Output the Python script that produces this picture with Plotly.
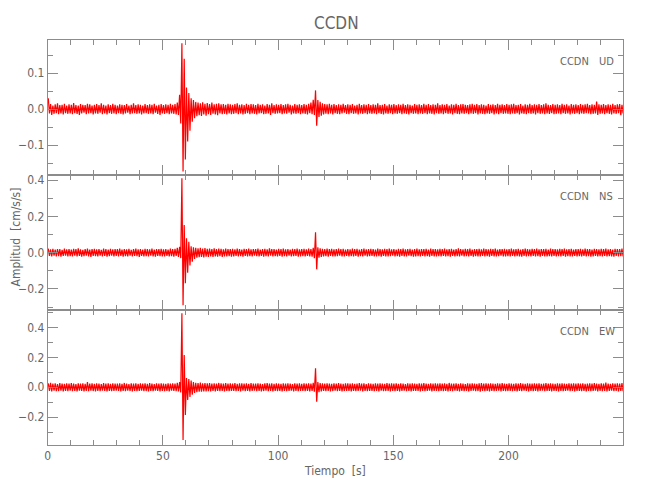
import plotly.graph_objects as go

STATION = "CCDN"
COMPONENTS = ["UD", "NS", "EW"]
X_TITLE = "Tiempo\u00a0\u00a0[s]"
Y_TITLE = "Amplitud\u00a0\u00a0[cm/s/s]"
X_TICKS = [0, 50, 100, 150, 200]

# Per-second envelope (max / min) of each component
UD_MAX = [
    0.030, 0.014, 0.010, 0.013, 0.016, 0.011, 0.012, 0.015, 0.010, 0.013,
    0.012, 0.017, 0.011, 0.010, 0.014, 0.012, 0.011, 0.015, 0.013, 0.010,
    0.012, 0.014, 0.011, 0.016, 0.012, 0.010, 0.013, 0.011, 0.015, 0.012,
    0.010, 0.013, 0.012, 0.011, 0.014, 0.010, 0.012, 0.016, 0.011, 0.013,
    0.012, 0.010, 0.014, 0.011, 0.013, 0.012, 0.015, 0.010, 0.012, 0.014,
    0.011, 0.013, 0.012, 0.015, 0.012, 0.014, 0.018, 0.040, 0.183, 0.140,
    0.060, 0.045, 0.030, 0.025, 0.020, 0.018, 0.016, 0.019, 0.015, 0.017,
    0.014, 0.018, 0.013, 0.015, 0.016, 0.013, 0.014, 0.012, 0.015, 0.013,
    0.012, 0.014, 0.016, 0.012, 0.013, 0.011, 0.015, 0.012, 0.014, 0.013,
    0.011, 0.015, 0.012, 0.013, 0.010, 0.014, 0.012, 0.016, 0.011, 0.013,
    0.012, 0.014, 0.011, 0.013, 0.015, 0.012, 0.010, 0.014, 0.012, 0.013,
    0.011, 0.014, 0.012, 0.015, 0.018, 0.026, 0.052, 0.025, 0.020, 0.016,
    0.014, 0.013, 0.015, 0.012, 0.014, 0.011, 0.013, 0.012, 0.015, 0.011,
    0.013, 0.012, 0.014, 0.010, 0.012, 0.015, 0.011, 0.013, 0.012, 0.014,
    0.011, 0.013, 0.012, 0.016, 0.011, 0.012, 0.014, 0.010, 0.013, 0.012,
    0.014, 0.011, 0.013, 0.012, 0.015, 0.011, 0.013, 0.012, 0.010, 0.014,
    0.012, 0.013, 0.011, 0.015, 0.012, 0.014, 0.011, 0.013, 0.012, 0.016,
    0.011, 0.013, 0.012, 0.014, 0.010, 0.013, 0.012, 0.015, 0.011, 0.013,
    0.014, 0.012, 0.011, 0.013, 0.015, 0.012, 0.014, 0.011, 0.013, 0.012,
    0.010, 0.014, 0.012, 0.013, 0.011, 0.015, 0.012, 0.013, 0.011, 0.014,
    0.012, 0.013, 0.015, 0.011, 0.012, 0.014, 0.010, 0.013, 0.012, 0.015,
    0.011, 0.013, 0.012, 0.014, 0.011, 0.013, 0.016, 0.012, 0.011, 0.014,
    0.012, 0.013, 0.011, 0.015, 0.012, 0.013, 0.010, 0.014, 0.012, 0.013,
    0.011, 0.014, 0.012, 0.013, 0.015, 0.011, 0.013, 0.012, 0.021, 0.013,
    0.012, 0.014, 0.011, 0.013, 0.012, 0.015, 0.011, 0.013, 0.014, 0.012,
]
UD_MIN = [
    -0.012, -0.016, -0.013, -0.011, -0.014, -0.012, -0.015, -0.011, -0.013, -0.012,
    -0.014, -0.011, -0.013, -0.016, -0.012, -0.010, -0.014, -0.012, -0.011, -0.015,
    -0.012, -0.013, -0.010, -0.014, -0.012, -0.015, -0.011, -0.013, -0.012, -0.014,
    -0.011, -0.013, -0.015, -0.012, -0.010, -0.014, -0.012, -0.011, -0.013, -0.012,
    -0.015, -0.012, -0.011, -0.013, -0.012, -0.014, -0.010, -0.013, -0.016, -0.012,
    -0.013, -0.011, -0.014, -0.012, -0.013, -0.015, -0.016, -0.040, -0.173, -0.140,
    -0.090, -0.060, -0.035, -0.025, -0.020, -0.017, -0.019, -0.015, -0.018, -0.014,
    -0.016, -0.013, -0.015, -0.017, -0.012, -0.014, -0.013, -0.015, -0.012, -0.014,
    -0.013, -0.011, -0.014, -0.012, -0.015, -0.013, -0.011, -0.014, -0.012, -0.013,
    -0.015, -0.012, -0.011, -0.014, -0.013, -0.012, -0.016, -0.011, -0.013, -0.012,
    -0.011, -0.014, -0.012, -0.013, -0.010, -0.015, -0.012, -0.013, -0.011, -0.014,
    -0.012, -0.013, -0.015, -0.011, -0.014, -0.016, -0.046, -0.022, -0.018, -0.015,
    -0.013, -0.014, -0.012, -0.015, -0.011, -0.013, -0.014, -0.012, -0.010, -0.013,
    -0.014, -0.011, -0.013, -0.012, -0.015, -0.012, -0.013, -0.011, -0.014, -0.012,
    -0.013, -0.012, -0.014, -0.011, -0.013, -0.015, -0.012, -0.013, -0.011, -0.014,
    -0.012, -0.013, -0.011, -0.014, -0.012, -0.013, -0.015, -0.011, -0.013, -0.012,
    -0.014, -0.012, -0.013, -0.011, -0.014, -0.012, -0.013, -0.015, -0.011, -0.013,
    -0.012, -0.014, -0.011, -0.013, -0.012, -0.015, -0.011, -0.013, -0.014, -0.012,
    -0.013, -0.011, -0.014, -0.012, -0.013, -0.011, -0.015, -0.012, -0.013, -0.014,
    -0.012, -0.013, -0.011, -0.015, -0.012, -0.014, -0.011, -0.013, -0.012, -0.013,
    -0.014, -0.012, -0.013, -0.011, -0.015, -0.012, -0.013, -0.014, -0.011, -0.013,
    -0.012, -0.015, -0.011, -0.013, -0.012, -0.014, -0.012, -0.013, -0.011, -0.014,
    -0.013, -0.012, -0.014, -0.011, -0.013, -0.012, -0.015, -0.012, -0.013, -0.011,
    -0.014, -0.012, -0.013, -0.011, -0.012, -0.014, -0.013, -0.012, -0.016, -0.013,
    -0.012, -0.014, -0.011, -0.013, -0.015, -0.012, -0.013, -0.011, -0.017, -0.012,
]
NS_MAX = [
    0.022, 0.018, 0.021, 0.017, 0.020, 0.019, 0.016, 0.023, 0.018, 0.020,
    0.017, 0.021, 0.019, 0.024, 0.018, 0.016, 0.020, 0.022, 0.017, 0.019,
    0.021, 0.018, 0.020, 0.016, 0.022, 0.019, 0.017, 0.021, 0.018, 0.020,
    0.019, 0.023, 0.017, 0.020, 0.018, 0.021, 0.016, 0.019, 0.022, 0.018,
    0.020, 0.017, 0.021, 0.019, 0.018, 0.022, 0.017, 0.020, 0.019, 0.021,
    0.018, 0.020, 0.017, 0.022, 0.019, 0.021, 0.026, 0.032, 0.410, 0.153,
    0.080, 0.060, 0.035, 0.030, 0.027, 0.024, 0.026, 0.022, 0.025, 0.021,
    0.023, 0.020, 0.024, 0.019, 0.022, 0.021, 0.018, 0.023, 0.020, 0.019,
    0.021, 0.018, 0.022, 0.020, 0.017, 0.021, 0.019, 0.023, 0.018, 0.020,
    0.019, 0.022, 0.017, 0.020, 0.021, 0.018, 0.024, 0.019, 0.020, 0.017,
    0.021, 0.019, 0.022, 0.018, 0.020, 0.017, 0.021, 0.019, 0.023, 0.018,
    0.019, 0.021, 0.018, 0.022, 0.020, 0.026, 0.112, 0.030, 0.024, 0.021,
    0.020, 0.022, 0.019, 0.021, 0.018, 0.020, 0.023, 0.019, 0.021, 0.017,
    0.020, 0.018, 0.022, 0.019, 0.021, 0.017, 0.020, 0.022, 0.018, 0.019,
    0.021, 0.019, 0.017, 0.022, 0.020, 0.018, 0.021, 0.019, 0.023, 0.018,
    0.020, 0.017, 0.021, 0.019, 0.022, 0.018, 0.020, 0.021, 0.017, 0.019,
    0.022, 0.018, 0.020, 0.019, 0.021, 0.017, 0.023, 0.019, 0.020, 0.018,
    0.021, 0.019, 0.022, 0.018, 0.020, 0.021, 0.017, 0.019, 0.024, 0.020,
    0.018, 0.021, 0.019, 0.022, 0.017, 0.020, 0.019, 0.021, 0.018, 0.022,
    0.020, 0.018, 0.021, 0.019, 0.023, 0.017, 0.020, 0.019, 0.021, 0.018,
    0.019, 0.022, 0.018, 0.020, 0.021, 0.017, 0.019, 0.022, 0.020, 0.018,
    0.021, 0.019, 0.023, 0.018, 0.020, 0.019, 0.021, 0.017, 0.022, 0.019,
    0.020, 0.018, 0.021, 0.019, 0.022, 0.018, 0.020, 0.021, 0.017, 0.020,
    0.019, 0.021, 0.018, 0.022, 0.020, 0.019, 0.017, 0.021, 0.020, 0.018,
    0.021, 0.019, 0.022, 0.018, 0.020, 0.017, 0.021, 0.019, 0.020, 0.022,
]
NS_MIN = [
    -0.018, -0.021, -0.017, -0.020, -0.019, -0.022, -0.018, -0.016, -0.020, -0.019,
    -0.021, -0.017, -0.020, -0.018, -0.022, -0.019, -0.017, -0.020, -0.023, -0.018,
    -0.019, -0.021, -0.017, -0.020, -0.018, -0.022, -0.019, -0.017, -0.021, -0.018,
    -0.020, -0.018, -0.022, -0.019, -0.021, -0.017, -0.020, -0.018, -0.019, -0.023,
    -0.018, -0.020, -0.019, -0.021, -0.017, -0.020, -0.022, -0.018, -0.019, -0.020,
    -0.021, -0.018, -0.020, -0.019, -0.022, -0.018, -0.024, -0.030, -0.290, -0.169,
    -0.110, -0.070, -0.050, -0.035, -0.028, -0.025, -0.023, -0.026, -0.022, -0.024,
    -0.021, -0.023, -0.020, -0.022, -0.019, -0.023, -0.020, -0.021, -0.019, -0.022,
    -0.020, -0.018, -0.021, -0.019, -0.022, -0.018, -0.020, -0.019, -0.021, -0.017,
    -0.019, -0.021, -0.018, -0.022, -0.019, -0.020, -0.017, -0.021, -0.019, -0.020,
    -0.018, -0.022, -0.019, -0.020, -0.017, -0.021, -0.019, -0.018, -0.022, -0.020,
    -0.019, -0.021, -0.018, -0.020, -0.022, -0.030, -0.092, -0.028, -0.023, -0.021,
    -0.019, -0.022, -0.018, -0.020, -0.021, -0.019, -0.017, -0.021, -0.020, -0.018,
    -0.021, -0.019, -0.020, -0.018, -0.022, -0.019, -0.021, -0.017, -0.020, -0.019,
    -0.018, -0.021, -0.020, -0.019, -0.022, -0.018, -0.020, -0.021, -0.019, -0.017,
    -0.020, -0.019, -0.022, -0.018, -0.020, -0.021, -0.017, -0.019, -0.022, -0.020,
    -0.019, -0.021, -0.018, -0.020, -0.019, -0.022, -0.018, -0.020, -0.021, -0.019,
    -0.020, -0.018, -0.021, -0.019, -0.022, -0.018, -0.020, -0.019, -0.021, -0.017,
    -0.021, -0.019, -0.020, -0.018, -0.022, -0.019, -0.021, -0.020, -0.018, -0.020,
    -0.019, -0.022, -0.018, -0.020, -0.021, -0.019, -0.017, -0.021, -0.020, -0.019,
    -0.020, -0.018, -0.021, -0.019, -0.020, -0.022, -0.018, -0.020, -0.019, -0.021,
    -0.018, -0.020, -0.019, -0.022, -0.018, -0.020, -0.021, -0.019, -0.020, -0.018,
    -0.021, -0.019, -0.020, -0.018, -0.022, -0.019, -0.020, -0.021, -0.018, -0.020,
    -0.019, -0.021, -0.018, -0.020, -0.019, -0.022, -0.020, -0.018, -0.021, -0.019,
    -0.020, -0.018, -0.021, -0.019, -0.020, -0.022, -0.018, -0.020, -0.019, -0.021,
]
EW_MAX = [
    0.026, 0.030, 0.024, 0.027, 0.022, 0.028, 0.025, 0.023, 0.027, 0.024,
    0.028, 0.025, 0.022, 0.026, 0.024, 0.027, 0.023, 0.035, 0.025, 0.026,
    0.023, 0.027, 0.025, 0.022, 0.028, 0.024, 0.026, 0.023, 0.027, 0.025,
    0.024, 0.026, 0.023, 0.029, 0.025, 0.022, 0.027, 0.024, 0.026, 0.023,
    0.027, 0.024, 0.026, 0.023, 0.028, 0.025, 0.022, 0.026, 0.024, 0.027,
    0.025, 0.023, 0.026, 0.024, 0.027, 0.025, 0.030, 0.035, 0.495, 0.216,
    0.062, 0.055, 0.045, 0.035, 0.030, 0.028, 0.031, 0.027, 0.029, 0.026,
    0.028, 0.025, 0.027, 0.024, 0.029, 0.026, 0.025, 0.028, 0.024, 0.027,
    0.025, 0.028, 0.023, 0.026, 0.027, 0.024, 0.026, 0.023, 0.028, 0.025,
    0.024, 0.027, 0.025, 0.022, 0.026, 0.028, 0.024, 0.026, 0.023, 0.027,
    0.025, 0.023, 0.027, 0.024, 0.026, 0.025, 0.022, 0.027, 0.024, 0.026,
    0.023, 0.026, 0.024, 0.027, 0.025, 0.030, 0.127, 0.035, 0.028, 0.026,
    0.024, 0.027, 0.025, 0.023, 0.026, 0.024, 0.028, 0.025, 0.023, 0.026,
    0.027, 0.024, 0.026, 0.023, 0.025, 0.028, 0.024, 0.026, 0.022, 0.027,
    0.025, 0.023, 0.027, 0.024, 0.026, 0.025, 0.023, 0.028, 0.024, 0.026,
    0.024, 0.027, 0.023, 0.026, 0.025, 0.022, 0.027, 0.024, 0.026, 0.025,
    0.023, 0.026, 0.024, 0.028, 0.025, 0.023, 0.026, 0.024, 0.027, 0.025,
    0.026, 0.024, 0.027, 0.023, 0.029, 0.025, 0.024, 0.026, 0.023, 0.027,
    0.025, 0.022, 0.026, 0.024, 0.027, 0.025, 0.023, 0.026, 0.028, 0.024,
    0.026, 0.024, 0.027, 0.025, 0.023, 0.026, 0.024, 0.028, 0.025, 0.023,
    0.027, 0.025, 0.023, 0.026, 0.024, 0.028, 0.025, 0.023, 0.026, 0.024,
    0.025, 0.027, 0.024, 0.026, 0.023, 0.025, 0.028, 0.024, 0.026, 0.025,
    0.023, 0.026, 0.024, 0.027, 0.025, 0.023, 0.026, 0.024, 0.027, 0.025,
    0.026, 0.024, 0.027, 0.023, 0.025, 0.026, 0.024, 0.028, 0.025, 0.023,
    0.026, 0.024, 0.032, 0.025, 0.023, 0.026, 0.024, 0.027, 0.025, 0.028,
]
EW_MIN = [
    -0.024, -0.027, -0.023, -0.026, -0.025, -0.022, -0.027, -0.024, -0.026, -0.023,
    -0.026, -0.024, -0.028, -0.023, -0.025, -0.027, -0.024, -0.026, -0.022, -0.025,
    -0.027, -0.024, -0.026, -0.023, -0.025, -0.028, -0.024, -0.026, -0.025, -0.023,
    -0.025, -0.027, -0.024, -0.026, -0.023, -0.025, -0.028, -0.024, -0.026, -0.025,
    -0.023, -0.026, -0.025, -0.027, -0.024, -0.026, -0.023, -0.025, -0.027, -0.024,
    -0.026, -0.024, -0.027, -0.023, -0.025, -0.026, -0.028, -0.035, -0.352, -0.185,
    -0.085, -0.065, -0.050, -0.038, -0.032, -0.029, -0.030, -0.027, -0.028, -0.026,
    -0.027, -0.025, -0.028, -0.024, -0.026, -0.025, -0.027, -0.024, -0.026, -0.025,
    -0.024, -0.026, -0.025, -0.027, -0.023, -0.026, -0.024, -0.027, -0.025, -0.023,
    -0.026, -0.024, -0.027, -0.025, -0.023, -0.026, -0.025, -0.028, -0.024, -0.026,
    -0.025, -0.027, -0.024, -0.026, -0.025, -0.023, -0.027, -0.024, -0.026, -0.025,
    -0.024, -0.026, -0.025, -0.027, -0.024, -0.030, -0.096, -0.032, -0.027, -0.025,
    -0.026, -0.024, -0.027, -0.025, -0.023, -0.026, -0.024, -0.027, -0.025, -0.024,
    -0.025, -0.027, -0.024, -0.026, -0.025, -0.023, -0.027, -0.024, -0.026, -0.025,
    -0.024, -0.026, -0.025, -0.027, -0.023, -0.026, -0.025, -0.024, -0.027, -0.025,
    -0.026, -0.024, -0.027, -0.025, -0.023, -0.026, -0.024, -0.027, -0.025, -0.024,
    -0.025, -0.027, -0.024, -0.026, -0.025, -0.023, -0.027, -0.025, -0.024, -0.026,
    -0.024, -0.026, -0.025, -0.027, -0.024, -0.026, -0.023, -0.025, -0.027, -0.024,
    -0.026, -0.024, -0.027, -0.025, -0.023, -0.026, -0.025, -0.029, -0.024, -0.026,
    -0.025, -0.027, -0.024, -0.026, -0.025, -0.023, -0.027, -0.024, -0.026, -0.025,
    -0.024, -0.026, -0.025, -0.027, -0.024, -0.026, -0.023, -0.025, -0.027, -0.024,
    -0.026, -0.024, -0.027, -0.025, -0.023, -0.026, -0.025, -0.024, -0.027, -0.025,
    -0.025, -0.027, -0.024, -0.026, -0.025, -0.023, -0.026, -0.024, -0.027, -0.025,
    -0.024, -0.026, -0.025, -0.027, -0.024, -0.026, -0.025, -0.023, -0.027, -0.024,
    -0.026, -0.024, -0.027, -0.025, -0.023, -0.026, -0.024, -0.027, -0.025, -0.026,
]

Y_RANGES = [[-0.183, 0.192], [-0.316, 0.428], [-0.386, 0.517]]
Y_DTICK = [0.1, 0.2, 0.2]
Y_MINOR = [0.05, 0.1, 0.1]

W, H = 650, 500
LINE = "#8c8c8c"
TXT = "#666666"
FONT = "DejaVu Sans Condensed, Liberation Sans Narrow, sans-serif"

X0, X1 = 47.7, 623.0
PANELS_PX = [(40, 175), (175, 310), (310, 445)]


def zigzag(mx, mn):
    xs, ys = [], []
    for i, (a, b) in enumerate(zip(mx, mn)):
        xs += [i + 0.25, i + 0.75]
        ys += [a, b]
    return xs, ys


fig = go.Figure()
series = [(UD_MAX, UD_MIN), (NS_MAX, NS_MIN), (EW_MAX, EW_MIN)]
for k, (mx, mn) in enumerate(series):
    xs, ys = zigzag(mx, mn)
    sfx = "" if k == 0 else str(k + 1)
    fig.add_trace(go.Scatter(x=xs, y=ys, mode="lines",
                             line=dict(color="#ff0000", width=1.2),
                             xaxis="x" + sfx, yaxis="y" + sfx,
                             showlegend=False, hoverinfo="skip"))

common = dict(showline=True, linecolor=LINE, linewidth=1, mirror="ticks",
              ticks="inside", ticklen=10, tickcolor=LINE, tickwidth=1,
              showgrid=False, zeroline=False, automargin=False,
              tickfont=dict(family=FONT, size=12, color=TXT))

layout = dict(width=W, height=H, paper_bgcolor="white", plot_bgcolor="white",
              margin=dict(l=0, r=0, t=0, b=0, autoexpand=False), showlegend=False,
              font=dict(family=FONT, color=TXT))

for k in range(3):
    sfx = "" if k == 0 else str(k + 1)
    top, bot = PANELS_PX[k]
    xa = dict(common)
    xa.update(domain=[X0 / W, X1 / W], range=[0, 249.7], tickvals=X_TICKS,
              anchor="y" + sfx,
              minor=dict(ticks="inside", ticklen=5, dtick=10, tick0=0,
                         tickcolor=LINE, showgrid=False),
              showticklabels=(k == 2))
    if k > 0:
        xa["matches"] = "x"
    ya = dict(common)
    ya.update(domain=[1 - bot / H, 1 - top / H], range=Y_RANGES[k],
              dtick=Y_DTICK[k], tick0=0, tickformat=".1f", anchor="x" + sfx,
              minor=dict(ticks="inside", ticklen=5, dtick=Y_MINOR[k], tick0=0,
                         tickcolor=LINE, showgrid=False))
    layout["xaxis" + sfx] = xa
    layout["yaxis" + sfx] = ya

annotations = [
    dict(text=STATION, x=336.7 / W, y=1 - 23 / H, xref="paper", yref="paper",
         showarrow=False, xanchor="center", yanchor="middle",
         font=dict(family=FONT, size=17, color=TXT)),
    dict(text=X_TITLE, x=(X0 + X1) / 2 / W, y=1 - 471 / H, xref="paper", yref="paper",
         showarrow=False, xanchor="center", yanchor="middle",
         font=dict(family=FONT, size=12, color=TXT)),
    dict(text=Y_TITLE, x=15 / W, y=1 - 237.5 / H, xref="paper", yref="paper",
         showarrow=False, xanchor="center", yanchor="middle", textangle=-90,
         font=dict(family=FONT, size=12, color=TXT)),
]
for k, comp in enumerate(COMPONENTS):
    yc = 61.3 + 135 * k
    annotations.append(dict(text=STATION, x=558.3 / W, y=1 - yc / H, xref="paper",
                            yref="paper", showarrow=False, xanchor="left",
                            yanchor="middle", font=dict(family=FONT, size=11, color=TXT)))
    annotations.append(dict(text=comp, x=596.7 / W, y=1 - yc / H, xref="paper",
                            yref="paper", showarrow=False, xanchor="left",
                            yanchor="middle", font=dict(family=FONT, size=11, color=TXT)))
layout["annotations"] = annotations

fig.update_layout(**layout)
fig.write_html("out.html", config={"displayModeBar": False},
               post_script="document.body.style.margin='0';document.body.style.padding='0';")
